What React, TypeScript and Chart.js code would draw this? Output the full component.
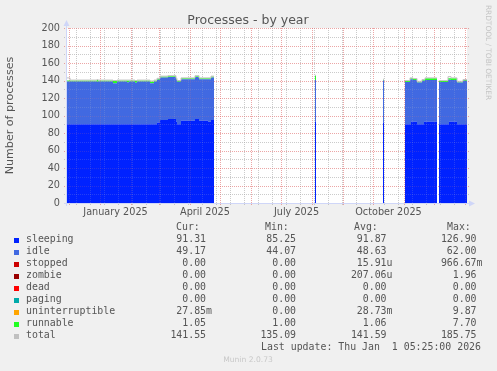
import React, { useEffect, useRef } from "react";
import { Chart, registerables } from "chart.js";

Chart.register(...registerables);

// ---------- text ----------
const TITLE = "Processes - by year";
const Y_TITLE = "Number of processes";
const WATERMARK = "RRDTOOL / TOBI OETIKER";
const FOOTER = "Munin 2.0.73";
const LAST_UPDATE = "Last update: Thu Jan  1 05:25:00 2026";

// ---------- axes (x = days since 2025-01-01) ----------
const X_MIN = -33;
const X_MAX = 367;
const Y_MIN = 0;
const Y_MAX = 200;
const Y_STEP = 20;
const X_LABELS = ["January 2025", "April 2025", "July 2025", "October 2025"];
const X_LABEL_DAYS = [15.5, 105, 196.5, 288.5];
const MONTH_START_DAYS = [-31, 0, 31, 59, 90, 120, 151, 181, 212, 243, 273, 304, 334, 365];
const MINOR_DAYS = [-24, -10, 4, 18, 32, 46, 60, 74, 88, 102, 116, 130, 144, 158, 172, 186, 200, 214, 228, 242, 256, 270, 284, 298, 312, 326, 340, 354];
const Y_MAJOR = [0, 20, 40, 60, 80, 100, 120, 140, 160, 180, 200];
const Y_MINOR = [10, 30, 50, 70, 90, 110, 130, 150, 170, 190];

// ---------- data ----------
const DAYS = [
  -33, -30, -3, -2, 13, 17, 27, 29, 35, 37, 50, 54, 57, 60, 68, 76, 77, 81, 95, 99, 108, 111, 114, 115,
  215, 216, 217,
  283, 284, 285,
  305, 310, 311, 313, 317, 322, 324, 325, 337, 338,
  339, 348, 349, 351, 357, 363, 367,
];
const SLEEPING = [
  90, 90, 90, 90, 90, 90, 90, 90, 90, 90, 90, 90, 92, 95, 96, 93, 90, 94, 96, 94, 93, 95, 95, null,
  93, 93, null,
  92, 92, null,
  90, 90, 93, 93, 90, 90, 93, 93, 93, null,
  90, 90, 93, 93, 90, 90, 90,
];
const IDLE = [
  49, 49, 48.5, 49, 47, 49, 48, 49, 47.5, 49, 47, 49, 49, 48.5, 48, 48, 48.5, 47.5, 48, 47.5, 48.5, 48.5, 48.5, null,
  47.6, 47.6, null,
  48, 48, null,
  48.4, 51.5, 48.5, 47.7, 47.6, 49.6, 46.6, 47.5, 47.5, null,
  48.4, 51, 48, 47.5, 47.6, 49.6, 49.6,
];
const ZEROS = [
  0, 0, 0, 0, 0, 0, 0, 0, 0, 0, 0, 0, 0, 0, 0, 0, 0, 0, 0, 0, 0, 0, 0, null,
  0, 0, null,
  0, 0, null,
  0, 0, 0, 0, 0, 0, 0, 0, 0, null,
  0, 0, 0, 0, 0, 0, 0,
];
const STOPPED = ZEROS;
const ZOMBIE = ZEROS;
const DEAD = ZEROS;
const PAGING = ZEROS;
const UNINTERRUPTIBLE = ZEROS;
const RUNNABLE = [
  1, 1, 2, 1, 2.5, 1, 2, 1, 2, 1, 2, 1, 1, 1, 1, 1, 1, 1, 1, 1, 1, 1, 1, null,
  5, 5, null,
  1, 1, null,
  1, 1, 1, 1, 1, 1, 1, 2, 2, null,
  1, 1.5, 1.5, 2, 1, 1, 1,
];
const TOTAL = [
  143, 140.5, 141, 140.5, 140, 140.5, 140.5, 140.5, 140, 140.5, 139.5, 140.5, 142.5, 145, 145.5, 142.5, 140, 143, 145.5, 143, 143, 145, 145, null,
  146, 146, null,
  141.5, 141.5, null,
  139.9, 143, 143, 142.2, 139.1, 141.1, 141.1, 143, 143, null,
  139.9, 144.4, 144.4, 143, 139.1, 141.1, 141.1,
];

// ---------- legend ----------
const NAMES = ["sleeping", "idle", "stopped", "zombie", "dead", "paging", "uninterruptible", "runnable", "total"];
const COLORS = ["#0022ff", "#4169e1", "#cc0000", "#990000", "#ff0000", "#00aaaa", "#ffa500", "#22ff22", "#c0c0c0"];
const CUR = ["91.31 ", "49.17 ", "0.00 ", "0.00 ", "0.00 ", "0.00 ", "27.85m", "1.05 ", "141.55 "];
const MIN = ["85.25 ", "44.07 ", "0.00 ", "0.00 ", "0.00 ", "0.00 ", "0.00 ", "1.00 ", "135.09 "];
const AVG = ["91.87 ", "48.63 ", "15.91u", "207.06u", "0.00 ", "0.00 ", "28.73m", "1.06 ", "141.59 "];
const MAX = ["126.90 ", "62.00 ", "966.67m", "1.96 ", "0.00 ", "0.00 ", "9.87 ", "7.70 ", "185.75 "];
const HEADERS = ["Cur:", "Min:", "Avg:", "Max:"];

const TEXT = "#555555";
const MINOR_GRID = "rgba(143,143,143,0.45)";
const MAJOR_GRID = "rgba(222,79,79,0.45)";
const MINOR_OVER = "rgba(200,200,200,0.18)";
const MAJOR_OVER = "rgba(222,120,120,0.18)";
const AXIS = "#cfd6f8";

function drawGrid(chart: any, minorColor: string, majorColor: string) {
  const { ctx, chartArea: a } = chart;
  const xs = chart.scales.x;
  const ys = chart.scales.y;
  ctx.save();
  ctx.lineWidth = 1;
  ctx.setLineDash([1, 1]);
  const hline = (v: number, c: string) => {
    const py = Math.round(ys.getPixelForValue(v)) + 0.5;
    ctx.strokeStyle = c;
    ctx.beginPath();
    ctx.moveTo(a.left - 3, py);
    ctx.lineTo(a.right + 2, py);
    ctx.stroke();
  };
  const vline = (d: number, c: string) => {
    const px = Math.round(xs.getPixelForValue(d)) + 0.5;
    ctx.strokeStyle = c;
    ctx.beginPath();
    ctx.moveTo(px, a.top);
    ctx.lineTo(px, a.bottom + 3);
    ctx.stroke();
  };
  Y_MINOR.forEach((v) => hline(v, minorColor));
  MINOR_DAYS.forEach((d) => vline(d, minorColor));
  Y_MAJOR.forEach((v) => hline(v, majorColor));
  MONTH_START_DAYS.forEach((d) => vline(d, majorColor));
  ctx.restore();
}

const rrdPlugin = {
  id: "rrd",
  beforeDraw(chart: any) {
    const { ctx, chartArea: a } = chart;
    ctx.save();
    ctx.fillStyle = "#f0f0f0";
    ctx.fillRect(0, 0, chart.width, chart.height);
    ctx.fillStyle = "#ffffff";
    ctx.fillRect(a.left, a.top, a.right - a.left, a.bottom - a.top);
    ctx.restore();
  },
  beforeDatasetsDraw(chart: any) {
    drawGrid(chart, MINOR_GRID, MAJOR_GRID);
  },
  afterDatasetsDraw(chart: any) {
    drawGrid(chart, MINOR_OVER, MAJOR_OVER);
    const { ctx, chartArea: a } = chart;
    ctx.save();
    ctx.lineWidth = 1;
    ctx.strokeStyle = AXIS;
    ctx.fillStyle = AXIS;
    const ax = a.left - 0.5;
    const by = a.bottom + 0.5;
    ctx.beginPath();
    ctx.moveTo(ax, a.bottom + 3);
    ctx.lineTo(ax, a.top - 2);
    ctx.stroke();
    ctx.beginPath();
    ctx.moveTo(ax - 3, a.top - 2);
    ctx.lineTo(ax + 3, a.top - 2);
    ctx.lineTo(ax, a.top - 8);
    ctx.closePath();
    ctx.fill();
    ctx.beginPath();
    ctx.moveTo(a.left - 3, by);
    ctx.lineTo(a.right + 2, by);
    ctx.stroke();
    ctx.beginPath();
    ctx.moveTo(a.right + 2, by - 3);
    ctx.lineTo(a.right + 2, by + 3);
    ctx.lineTo(a.right + 8, by);
    ctx.closePath();
    ctx.fill();
    ctx.restore();
  },
  afterDraw(chart: any) {
    const { ctx, chartArea: a } = chart;
    ctx.save();
    ctx.fillStyle = TEXT;
    ctx.textBaseline = "middle";
    // title
    ctx.font = "12.5px 'DejaVu Sans'";
    ctx.textAlign = "center";
    ctx.fillText(TITLE, 248, 20.5);
    // y title
    ctx.save();
    ctx.translate(10.5, (a.top + a.bottom) / 2);
    ctx.rotate(-Math.PI / 2);
    ctx.font = "11.1px 'DejaVu Sans'";
    ctx.fillText(Y_TITLE, 0, 0);
    ctx.restore();
    // watermark
    ctx.save();
    ctx.translate(488, 52.5);
    ctx.rotate(Math.PI / 2);
    ctx.font = "7.4px 'DejaVu Sans'";
    ctx.fillStyle = "#c4c4c4";
    ctx.fillText(WATERMARK, 0, 0);
    ctx.restore();
    // footer
    ctx.font = "7.6px 'DejaVu Sans'";
    ctx.fillStyle = "#c8c8c8";
    ctx.fillText(FOOTER, 248, 360);
    // legend
    ctx.font = "9.9px 'DejaVu Sans Mono'";
    ctx.fillStyle = TEXT;
    ctx.textAlign = "left";
    const hx = [176, 265, 354, 447];
    HEADERS.forEach((h, i) => ctx.fillText(h, hx[i], 227.5));
    const ends = [212, 302, 392.5, 482.5];
    const cols = [CUR, MIN, AVG, MAX];
    NAMES.forEach((n, i) => {
      const y = 239.5 + 12 * i;
      ctx.fillStyle = COLORS[i];
      ctx.fillRect(14, Math.round(y) - 2, 5, 5);
      ctx.fillStyle = TEXT;
      ctx.textAlign = "left";
      ctx.fillText(n, 26, y);
      ctx.textAlign = "right";
      cols.forEach((c, k) => ctx.fillText(c[i], ends[k], y));
    });
    ctx.textAlign = "left";
    ctx.fillText(LAST_UPDATE, 261, 347);
    ctx.restore();
  },
};

export default function App() {
  const ref = useRef<HTMLCanvasElement | null>(null);
  useEffect(() => {
    if (!ref.current) return;
    const stackSeries = [SLEEPING, IDLE, STOPPED, ZOMBIE, DEAD, PAGING, UNINTERRUPTIBLE, RUNNABLE];
    const datasets: any[] = stackSeries.map((vals, i) => {
      const isZero = vals === ZEROS;
      return {
        label: NAMES[i],
        data: DAYS.map((d, j) => ({ x: d, y: vals[j] })),
        backgroundColor: COLORS[i],
        borderColor: "rgba(0,0,0,0)",
        borderWidth: 0,
        fill: isZero ? false : i === 0 ? "origin" : "-1",
        stepped: true,
        pointRadius: 0,
        stack: "procs",
      };
    });
    datasets.push({
      label: NAMES[8],
      data: DAYS.map((d, j) => ({ x: d, y: TOTAL[j] })),
      borderColor: COLORS[8],
      backgroundColor: COLORS[8],
      borderWidth: 1,
      fill: false,
      stepped: true,
      pointRadius: 0,
      stack: "total",
      order: -1,
    });
    const chart = new Chart(ref.current, {
      type: "line",
      data: { datasets },
      plugins: [rrdPlugin],
      options: {
        animation: false,
        responsive: false,
        layout: { padding: { left: 0, top: 28, right: 30, bottom: 148 } },
        plugins: { legend: { display: false }, tooltip: { enabled: false }, title: { display: false } },
        scales: {
          x: {
            type: "linear",
            min: X_MIN,
            max: X_MAX,
            grid: { display: false, drawTicks: false },
            border: { display: false },
            afterBuildTicks: (s: any) => {
              s.ticks = X_LABEL_DAYS.map((v) => ({ value: v }));
            },
            afterFit: (s: any) => {
              s.height = 20;
            },
            ticks: {
              autoSkip: false,
              maxRotation: 0,
              minRotation: 0,
              padding: 4,
              color: TEXT,
              font: { family: "'DejaVu Sans'", size: 9.7 },
              callback: (_v: any, i: number) => X_LABELS[i],
            },
          },
          y: {
            type: "linear",
            stacked: true,
            min: Y_MIN,
            max: Y_MAX,
            grid: { display: false, drawTicks: false },
            border: { display: false },
            afterFit: (s: any) => {
              s.width = 67;
            },
            ticks: {
              stepSize: Y_STEP,
              padding: 7,
              color: TEXT,
              font: { family: "'DejaVu Sans'", size: 9.7 },
            },
          },
        },
      } as any,
    });
    return () => chart.destroy();
  }, []);
  return (
    <div style={{ position: "absolute", left: 0, top: 0, width: 497, height: 371, background: "#f0f0f0" }}>
      <canvas ref={ref} width={497} height={371} style={{ display: "block" }} />
    </div>
  );
}
